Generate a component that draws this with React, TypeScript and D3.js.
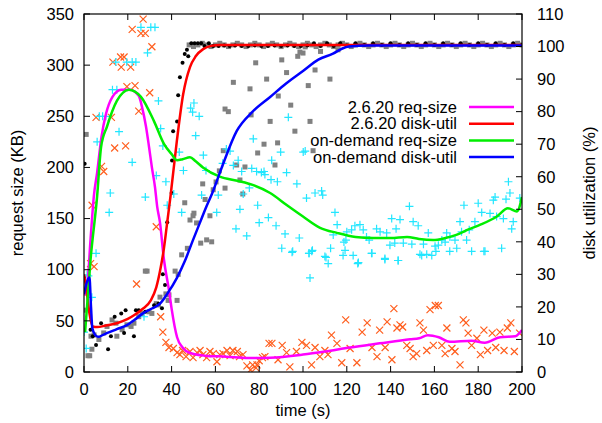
import React from "react";
import * as d3 from "d3";

// chart frame
const W = 602;
const H = 423;
const M = { left: 84, top: 14, right: 80, bottom: 51 };
const FONT = "'Liberation Sans', Arial, sans-serif";

// axis ticks
const xTicks = [0, 20, 40, 60, 80, 100, 120, 140, 160, 180, 200];
const yTicks = [0, 50, 100, 150, 200, 250, 300, 350];
const y2Ticks = [0, 10, 20, 30, 40, 50, 60, 70, 80, 90, 100, 110];

// legend entries
const legendLabels = ["2.6.20 req-size", "2.6.20 disk-util", "on-demand req-size", "on-demand disk-util"];
const legendColors = ["#ff00ff", "#ff0000", "#00ee00", "#0000ff"];

// 2.6.20 req-size samples [t, KB]
const oldReqPts: [number, number][] = [
  [0, 77], [3, 106], [3.7, 163], [4.6, 103], [5.5, 249], [8, 201], [9, 196], [12.5, 249],
  [13.2, 303], [14, 219], [16.7, 308], [17, 298], [18.3, 308], [19, 221], [19.6, 279], [21.3, 298],
  [22, 335], [23.3, 280], [24, 86], [25, 255], [26, 331], [27, 345], [28, 331], [30, 273],
  [31, 318], [33, 142], [35, 54], [36, 39], [37.4, 29], [38.8, 24],
  [40.8, 23], [42.5, 19], [43.8, 17], [45, 21], [46.6, 15], [48.4, 20], [49.8, 14], [51.6, 19],
  [53, 21], [54.3, 17], [56, 14], [57.5, 20], [59, 18], [60.7, 10], [62, 17], [63.5, 18],
  [65.3, 21], [66.7, 16], [68, 21], [70, 20], [71, 15], [72.6, 17], [74.4, 6], [76, 2],
  [77, 7], [78.5, 4], [79, 7], [80, 11], [81.5, 14], [82.6, 15], [84.5, 28], [85.8, 28],
  [88.6, 12], [90.5, 26], [92.5, 19], [94, 5], [97, 20], [99.5, 29], [101.6, 26], [103.9, 7],
  [105.5, 24], [107.7, 15], [110, 21], [111.4, 17], [113, 36], [115.5, 28], [117.7, 9], [119.5, 51],
  [121.5, 23], [124.6, 9], [127, 39], [129.3, 48], [131.5, 24], [133.8, 15], [135, 41], [137.5, 24],
  [138.4, 49], [140.6, 12], [141.5, 62], [142.9, 43], [144.3, 46], [145.5, 44], [147.4, 26], [148.9, 23],
  [150.3, 15], [151.9, 18], [153.4, 48], [155, 41], [156.5, 21], [158, 61], [159.5, 26], [160.4, 65],
  [161.8, 65], [163.4, 26], [164.9, 18], [165.7, 43], [168, 23], [169.4, 20], [171.7, 7], [173.2, 51],
  [174.4, 48], [175.4, 38], [177, 26], [179.4, 33], [181, 17], [182.6, 41], [184.3, 21], [186.4, 38],
  [188, 24], [189.9, 39], [191.8, 21], [193.3, 43], [194.9, 48], [196.5, 20], [198.9, 38],
];

// 2.6.20 disk-util samples [t, %]
const oldUtilPts: [number, number][] = [
  [0.3, 64], [0, 29], [3, 13], [4, 11], [5.5, 8.3], [7.8, 15], [11, 7], [12.3, 11],
  [14, 17], [17, 18], [18.3, 12], [19, 19], [22.8, 11], [23.7, 19], [25, 19], [28, 18.5],
  [32, 20.5], [34, 21], [35.6, 19.6], [36, 30], [37, 26.7], [38, 46], [40, 55], [40.2, 65],
  [40.7, 74], [42.5, 77], [43, 85], [43.8, 90.6], [45, 95], [46, 97.7], [47, 99], [47.6, 97],
  [49, 101], [50.5, 101], [52, 101], [53.5, 101], [55, 100.2], [57, 101], [59, 100.2], [61.5, 100.2],
  [64, 100.3], [66.5, 100.2], [69, 100.3], [72, 100.2], [75, 100.2], [78, 100.3], [81, 100.2], [84, 100.2],
  [87, 100.3], [90, 100.2], [93, 100.3], [96, 100.2], [99, 100.2], [102, 100.3], [105, 101], [108, 100.2],
  [111, 101], [114, 100.2], [117, 101], [120, 100.3], [124, 101], [128, 100.5], [132, 101], [136, 100.5],
  [140, 101], [144, 100.5], [148, 101], [152, 100.5], [156, 101], [160, 100.5], [164, 101], [168, 100.5],
  [172, 101], [176, 100.5], [180, 101], [184, 100.5], [188, 101], [192, 100.5], [196, 101], [200, 100.5],
];

// on-demand req-size samples [t, KB]
const newReqPts: [number, number][] = [
  [0, 39], [1, 23], [1.4, 95], [2, 94], [3.6, 73], [5.5, 116], [6, 225], [7, 250],
  [8.5, 250], [10, 250], [11.5, 156], [12, 175], [13, 276], [14.5, 303], [15, 276], [16, 235],
  [19.5, 303], [22, 303], [22, 205], [23.7, 303], [26, 337], [27.4, 54], [28, 171], [29, 312],
  [30.5, 337], [32.4, 337], [33, 192], [34, 265], [35, 238], [36, 221], [37.4, 186], [38, 163],
  [41, 174], [43.5, 215], [44.6, 156], [45.4, 197], [48.7, 258], [49.6, 254], [50.2, 263], [51, 231],
  [52.6, 250], [53.7, 173], [54.5, 212], [55.7, 197], [60.6, 156], [61.3, 173], [63.3, 204], [65, 218],
  [66.7, 216], [68.2, 202], [69.4, 140], [70.4, 207], [71.2, 159], [72, 196], [72.7, 174], [74.3, 133],
  [75.5, 180], [76.6, 199], [77.3, 228], [78.8, 196], [79.3, 163], [80, 146], [81, 195], [82.2, 196],
  [82.6, 193], [84.2, 151], [85.4, 188], [85.7, 207], [87.7, 143], [88.3, 186], [89.8, 215], [90.3, 121],
  [91.8, 135], [92.5, 195], [93.3, 249], [95, 117], [95.3, 118], [97.2, 184], [98.3, 131], [100.1, 215],
  [101, 216], [101.6, 170], [102.7, 116], [102.8, 116], [103.2, 92], [104, 118], [104.3, 119], [105.5, 175],
  [108.5, 177], [109, 173], [110, 113], [110.5, 112], [111.5, 106], [112.6, 121], [113.8, 134], [114.6, 156],
  [115.6, 144], [118.3, 114], [118.7, 127], [119.2, 119], [119.6, 129], [120, 137], [122.2, 139], [122.9, 114],
  [123.7, 143], [125, 106], [125.3, 107], [126, 144], [127.5, 139], [129, 132], [130.2, 129], [131.3, 116],
  [131.5, 116], [133.6, 140], [135.2, 137], [137.4, 111], [137.4, 110], [138.2, 136], [139.7, 124], [140.5, 150],
  [141.9, 126], [142.5, 140], [143.4, 109], [143.5, 109], [144.3, 149], [145.8, 126], [148.6, 162], [149.7, 125],
  [150.3, 147], [152.6, 143], [153.4, 115], [154.2, 114], [155, 125], [156.5, 115], [157.2, 136], [158.8, 114],
  [160.3, 123], [160.7, 118], [161.8, 124], [163.4, 129], [164.9, 127], [165.6, 136], [167, 118], [167.1, 132],
  [169.4, 129], [170.2, 121], [171.7, 147], [172.4, 137], [173.5, 163], [174.7, 129], [175.9, 139], [177, 118],
  [178.5, 147], [180, 165], [181.6, 156], [182.6, 118], [183.1, 118], [185.4, 155], [186.9, 168], [187.7, 171],
  [188.4, 152], [190.7, 121], [191.5, 150], [192.7, 169], [193.8, 186], [194.5, 175], [195.3, 140], [196, 147],
  [199, 170],
];

// on-demand disk-util samples [t, %]
const newUtilPts: [number, number][] = [
  [0, 19], [1, 73], [1.8, 5], [2.6, 5], [3.2, 11], [3.6, 7], [4.6, 11.4], [6.8, 10],
  [9, 12], [10.5, 14], [12.8, 16], [14.6, 15], [15, 11], [17.4, 13], [19.6, 14.5], [21.5, 14],
  [22.8, 15], [25, 17], [26.5, 18], [28, 31], [28.8, 31], [29.7, 18.5], [31, 18], [33, 21],
  [34, 20.6], [34.7, 23], [37.4, 24], [38.4, 22], [38.8, 23.7], [41.6, 31], [42.5, 22], [43, 30],
  [44.6, 36], [46, 52], [47.2, 38], [48.4, 46.7], [49.8, 48], [50.2, 48.8], [51.4, 45.8], [53.3, 39.6],
  [54.2, 57.8], [55.3, 53], [56, 40.6], [57.5, 48], [58.3, 40], [59, 56], [60.3, 58.4], [61.8, 61.8],
  [63.6, 68], [64.4, 56.5], [64.4, 80.8], [65.9, 80], [68.2, 89], [69.7, 63.6], [71.2, 59], [72.5, 54.7],
  [73.5, 63], [75.8, 87], [76.3, 79], [78.4, 95], [79.3, 67.3], [82.2, 70], [83.4, 90], [85, 77],
  [87.2, 63.6], [88.4, 70.4], [88.7, 84.8], [90.3, 95.9], [92.5, 92], [94.4, 82], [96.3, 74], [97.6, 97],
  [98.6, 98.3], [100, 98], [101, 99.9], [102.4, 88], [103.2, 77], [104.6, 68], [105.5, 92.8], [112.3, 90],
  [108, 98.5], [116, 99], [48, 100.5], [50, 100], [52, 100.5], [54, 101], [56, 100.5], [58, 100],
  [60, 100.5], [62, 101], [64, 100.5], [66, 100], [68, 100.5], [70, 101], [72, 100.5], [74, 100],
  [76, 100.5], [78, 101], [80, 100.5], [82, 100], [84, 100.5], [86, 101], [88, 100.5], [90, 100],
  [92, 100.5], [94, 101], [96, 100.5], [98, 100], [100, 100.5], [102, 101], [104, 100.5], [106, 100],
  [108, 100.5], [110, 101], [112, 100.5], [114, 100], [116, 100.5], [118, 101], [120, 100.5], [122, 100],
  [124, 100.5], [126, 101], [128, 100.5], [130, 100], [132, 100.5], [134, 101], [136, 100.5], [138, 100],
  [140, 100.5], [142, 101], [144, 100.5], [146, 100], [148, 100.5], [150, 101], [152, 100.5], [154, 100],
  [156, 100.5], [158, 101], [160, 100.5], [162, 100], [164, 100.5], [166, 101], [168, 100.5], [170, 100],
  [172, 100.5], [174, 101], [176, 100.5], [178, 100], [180, 100.5], [182, 101], [184, 100.5], [186, 100],
  [188, 100.5], [190, 101], [192, 100.5], [194, 100], [196, 100.5], [198, 101], [200, 100.5],
];

// smoothed curves
const oldReqLine: [number, number][] = [
  [0, 75], [1.5, 85], [3, 130], [4.5, 172], [6, 195], [8, 230], [10, 252], [13, 269],
  [17, 276], [21, 276], [25, 270], [26.5, 259], [28.3, 240], [29.7, 220], [31, 200], [32.4, 181],
  [33.4, 162], [34.7, 146], [36.5, 110], [38.8, 80], [40, 62], [42.5, 34], [45, 24], [48.4, 18.6],
  [55, 16], [65, 15], [75, 13.7], [85, 14], [100, 17], [110, 20], [121.5, 24], [135, 28],
  [148.9, 32], [153, 33], [157, 36], [162, 34], [167, 29.6], [177, 30.6], [183, 28.7], [190, 34],
  [197, 35], [200, 41],
];
const oldUtilLine: [number, number][] = [
  [0, 30], [1, 26], [2.5, 18], [4, 14], [6, 13.8], [10, 14.3], [15, 15], [20, 16.3],
  [23, 17.5], [27, 19.5], [30.5, 22], [33, 26], [35, 32], [36.5, 38], [38, 46], [39.5, 54],
  [42.4, 71], [45.3, 85.4], [48.4, 93.7], [51, 97], [54.4, 99.2], [58, 100.2], [62, 100.5], [200, 100.5],
];
const newReqLine: [number, number][] = [
  [0.5, 39], [3, 110], [6, 172], [7.8, 220], [10.5, 240], [15, 265], [20.5, 276], [26, 269],
  [32, 245], [36.5, 223], [40, 213], [42.5, 207], [45, 208], [48.4, 210], [51, 206], [54.3, 200],
  [62, 191], [70, 187], [77, 183], [85, 175], [92.7, 163], [100, 152], [107.8, 141], [115.5, 136],
  [124, 132], [132, 131], [140, 131], [147.5, 132], [153, 130], [159.4, 129], [165, 131], [170, 134],
  [175, 139], [181, 144], [188.5, 152], [193.6, 160], [197.7, 157], [200, 171],
];
const newUtilLine: [number, number][] = [
  [0, 24], [1.5, 28], [2.5, 29], [3.2, 20], [3.8, 13.5], [5, 11.5], [6.4, 10.8], [9, 11.5],
  [11.9, 12.3], [15, 13.2], [19.6, 14.4], [23, 16], [26.9, 18], [31, 19.5], [34.7, 21], [38, 24],
  [42.5, 29], [46, 34], [49.8, 40.6], [53, 46], [56, 51], [58.4, 54.7], [63, 63], [69.7, 74],
  [77, 80], [85, 84.5], [92, 88.5], [100, 92.5], [107, 96], [113.7, 97.8], [118, 99.4], [121, 100],
  [130, 100.3], [200, 100.3],
];

export default function App() {
  const iw = W - M.left - M.right;
  const ih = H - M.top - M.bottom;
  const x = d3.scaleLinear().domain([0, 200]).range([0, iw]);
  const y = d3.scaleLinear().domain([0, 350]).range([ih, 0]);
  const y2 = d3.scaleLinear().domain([0, 110]).range([ih, 0]);

  const lineL = d3.line<[number, number]>().x((d) => x(d[0])).y((d) => y(d[1])).curve(d3.curveMonotoneX);
  const lineR = d3.line<[number, number]>().x((d) => x(d[0])).y((d) => y2(d[1])).curve(d3.curveMonotoneX);

  const fs = 16.5;
  const tk = 6;

  return (
    <svg width={W} height={H} style={{ position: "absolute", left: 0, top: 0, background: "#fff" }} fontFamily={FONT}>
      <g transform={`translate(${M.left},${M.top})`}>
        <defs>
          <clipPath id="plot">
            <rect x={0} y={0} width={iw} height={ih} />
          </clipPath>
        </defs>
        <g clipPath="url(#plot)">
          {newUtilPts.map((d, i) => (
            <rect key={"g" + i} x={x(d[0]) - 2.5} y={y2(d[1]) - 2.5} width={5} height={5} fill="#808080" />
          ))}
          {oldUtilPts.map((d, i) => (
            <circle key={"k" + i} cx={x(d[0])} cy={y2(d[1])} r={2} fill="#000" />
          ))}
          {oldReqPts.map((d, i) => (
            <path
              key={"o" + i}
              transform={`translate(${x(d[0])},${y(d[1])})`}
              d="M-3.5,-3.5L3.5,3.5M-3.5,3.5L3.5,-3.5"
              stroke="#ff5f1f"
              strokeWidth={1.2}
            />
          ))}
          {newReqPts.map((d, i) => (
            <path
              key={"c" + i}
              transform={`translate(${x(d[0])},${y(d[1])})`}
              d="M-4,0H4M0,-4V4"
              stroke="#22e6ff"
              strokeWidth={1.2}
            />
          ))}
          <path d={lineL(oldReqLine) ?? ""} fill="none" stroke={legendColors[0]} strokeWidth={2.5} />
          <path d={lineR(oldUtilLine) ?? ""} fill="none" stroke={legendColors[1]} strokeWidth={2.5} />
          <path d={lineL(newReqLine) ?? ""} fill="none" stroke={legendColors[2]} strokeWidth={2.5} />
          <path d={lineR(newUtilLine) ?? ""} fill="none" stroke={legendColors[3]} strokeWidth={2.5} />
        </g>

        {/* frame */}
        <rect x={0} y={0} width={iw} height={ih} fill="none" stroke="#000" strokeWidth={1.2} />

        {/* x ticks, mirrored at top */}
        {xTicks.map((t) => (
          <g key={"x" + t}>
            <line x1={x(t)} x2={x(t)} y1={ih} y2={ih - tk} stroke="#000" />
            <line x1={x(t)} x2={x(t)} y1={0} y2={tk} stroke="#000" />
            <text x={x(t)} y={ih + 23} textAnchor="middle" fontSize={fs} fill="#000">
              {t}
            </text>
          </g>
        ))}
        {yTicks.map((t) => (
          <g key={"y" + t}>
            <line x1={0} x2={tk} y1={y(t)} y2={y(t)} stroke="#000" />
            <text x={-10} y={y(t)} dy="0.35em" textAnchor="end" fontSize={fs} fill="#000">
              {t}
            </text>
          </g>
        ))}
        {y2Ticks.map((t) => (
          <g key={"y2" + t}>
            <line x1={iw} x2={iw - tk} y1={y2(t)} y2={y2(t)} stroke="#000" />
            <text x={iw + 15} y={y2(t)} dy="0.35em" textAnchor="start" fontSize={fs} fill="#000">
              {t}
            </text>
          </g>
        ))}

        {/* legend */}
        {legendLabels.map((l, i) => (
          <g key={l} transform={`translate(0,${93 + i * 16.7})`}>
            <text x={373} y={0} dy="0.35em" textAnchor="end" fontSize={fs} fill="#000">
              {l}
            </text>
            <line x1={385} x2={430} y1={0} y2={0} stroke={legendColors[i]} strokeWidth={2.5} />
          </g>
        ))}

        {/* axis titles */}
        <text x={iw / 2} y={ih + 44} textAnchor="middle" fontSize={fs} fill="#000">
          time (s)
        </text>
        <text transform={`translate(${-61},${ih / 2}) rotate(-90)`} textAnchor="middle" fontSize={fs} fill="#000">
          request size (KB)
        </text>
        <text transform={`translate(${iw + 73},${ih / 2}) rotate(-90)`} textAnchor="middle" fontSize={fs} fill="#000">
          disk utilization (%)
        </text>
      </g>
    </svg>
  );
}
